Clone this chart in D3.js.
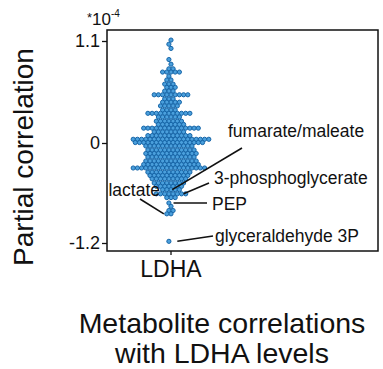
<!DOCTYPE html>
<html>
<head>
<meta charset="utf-8">
<script src="https://cdn.jsdelivr.net/npm/d3@7"></script>
<style>
  html, body { margin: 0; padding: 0; background: #fff; }
  svg { display: block; font-family: "Liberation Sans", Arial, sans-serif; }
</style>
</head>
<body>
<div id="chart"></div>
<script>
// partial correlations (x1e-4), one entry per swarm row, with how many metabolites sit in it
const corrValues = [1.11, 1.065, 1.02, 0.90, 0.85, 0.80, 0.765, 0.72, 0.68, 0.635, 0.60,
  0.56, 0.52, 0.475, 0.44, 0.40, 0.355, 0.32, 0.28, 0.235, 0.20, 0.16, 0.12, 0.08, 0.04,
  0.005, -0.036, -0.084, -0.126, -0.168, -0.216, -0.258, -0.30, -0.35, -0.39, -0.43, -0.48,
  -0.52, -0.56, -0.61, -0.655, -0.72, -0.76, -0.81, -0.85, -1.18];
const corrCounts = [1, 1, 1, 1, 1, 2, 5, 1, 2, 3, 3,
  3, 9, 3, 5, 5, 4, 11, 6, 7, 7, 14, 8, 11, 19,
  17, 12, 12, 13, 12, 13, 14, 18, 11, 10, 9, 8,
  7, 5, 8, 3, 1, 1, 2, 2, 1];

const categories = ["LDHA"];
const yTicks = [-1.2, 0, 1.1];
const yTickLabels = ["-1.2", "0", "1.1"];

// labelled metabolites and the correlation of the dot each one points at
const labelNames = ["fumarate/maleate", "3-phosphoglycerate", "PEP", "lactate", "glyceraldehyde 3P"];
const labelValues = [-0.56, -0.61, -0.72, -0.85, -1.18];

const width = 383, height = 369;
const frame = { left: 107, right: 378, top: 30, bottom: 251 };

const svg = d3.select("#chart").append("svg")
  .attr("width", width)
  .attr("height", height);

const y = d3.scaleLinear()
  .domain([-1.2, 0, 1.1])
  .range([243, 143, 41]);

const x = d3.scaleBand()
  .domain(categories)
  .range([frame.left, 235]);
const cx = x("LDHA") + x.bandwidth() / 2;

// horizontal offset of a dot within its row, in dot units
const spread = d3.scaleLinear().domain([0, 1]).range([0, 4.2]);

// hex-like packing: odd rows sit on a half-shifted lattice
const dots = [];
corrValues.forEach((v, i) => {
  const n = corrCounts[i];
  const s = (i % 2) * 0.5;
  const slots = d3.range(-15, 16).map(j => j + s)
    .sort((a, b) => Math.abs(a) - Math.abs(b) || a - b)
    .slice(0, n);
  slots.forEach(off => dots.push({ v, off }));
});

// frame
svg.append("rect")
  .attr("x", frame.left)
  .attr("y", frame.top)
  .attr("width", frame.right - frame.left)
  .attr("height", frame.bottom - frame.top)
  .attr("fill", "none")
  .attr("stroke", "#111")
  .attr("stroke-width", 1.5);

// y axis ticks
const yAxis = svg.append("g")
  .attr("transform", `translate(${frame.left},0)`)
  .call(d3.axisLeft(y).tickValues(yTicks).tickSize(5).tickPadding(2)
    .tickFormat((d, i) => yTickLabels[i]));
yAxis.select(".domain").remove();
yAxis.selectAll(".tick line").attr("stroke", "#111").attr("stroke-width", 1.3);
yAxis.selectAll(".tick text")
  .attr("font-family", "Liberation Sans, Arial, sans-serif")
  .attr("font-size", 18)
  .attr("fill", "#111");

// x axis tick + label
const xAxis = svg.append("g")
  .attr("transform", `translate(0,${frame.bottom})`)
  .call(d3.axisBottom(x).tickSize(4).tickPadding(6));
xAxis.select(".domain").remove();
xAxis.selectAll(".tick line").attr("stroke", "#111").attr("stroke-width", 1.3);
xAxis.selectAll(".tick text")
  .attr("font-family", "Liberation Sans, Arial, sans-serif")
  .attr("font-size", 23)
  .attr("fill", "#111");

// exponent note
const note = svg.append("text")
  .attr("x", 87)
  .attr("y", 25)
  .attr("font-size", 17)
  .attr("fill", "#111");
note.append("tspan").attr("font-size", 13).attr("dy", -3).text("*");
note.append("tspan").attr("dy", 3).text("10");
note.append("tspan").attr("font-size", 10).attr("dy", -8).text("-4");

// swarm
svg.append("g")
  .selectAll("circle")
  .data(dots)
  .join("circle")
  .attr("cx", d => cx + spread(d.off))
  .attr("cy", d => y(d.v))
  .attr("r", 2.1)
  .attr("fill", "#4a9fdc")
  .attr("stroke", "#1565a8")
  .attr("stroke-width", 1);

// annotations: dot offset (dot units), line end, text anchor
const annot = [
  { dx: 0.3, end: [242, 148], tx: 228, ty: 137, anchor: "start" },
  { dx: 3.0, end: [209, 183], tx: 214, ty: 184, anchor: "start" },
  { dx: 0.6, end: [207, 203], tx: 212, ty: 210, anchor: "start" },
  { dx: -1.7, end: [140, 199], tx: 160, ty: 196, anchor: "end" },
  { dx: 1.5, end: [213, 236], tx: 215, ty: 242, anchor: "start" }
];

annot.forEach((a, i) => {
  svg.append("line")
    .attr("x1", cx + spread(a.dx))
    .attr("y1", y(labelValues[i]))
    .attr("x2", a.end[0])
    .attr("y2", a.end[1])
    .attr("stroke", "#111")
    .attr("stroke-width", 1.6);
  svg.append("text")
    .attr("x", a.tx)
    .attr("y", a.ty)
    .attr("text-anchor", a.anchor)
    .attr("font-size", 17.5)
    .attr("fill", "#111")
    .text(labelNames[i]);
});

// y title
svg.append("text")
  .attr("transform", `translate(33,157) rotate(-90)`)
  .attr("text-anchor", "middle")
  .attr("font-size", 28)
  .attr("fill", "#111")
  .text("Partial correlation");

// bottom title
svg.append("text")
  .attr("x", 222)
  .attr("y", 333)
  .attr("text-anchor", "middle")
  .attr("font-size", 28.5)
  .attr("fill", "#111")
  .text("Metabolite correlations");
svg.append("text")
  .attr("x", 222)
  .attr("y", 363)
  .attr("text-anchor", "middle")
  .attr("font-size", 28.5)
  .attr("fill", "#111")
  .text("with LDHA levels");
</script>
</body>
</html>
